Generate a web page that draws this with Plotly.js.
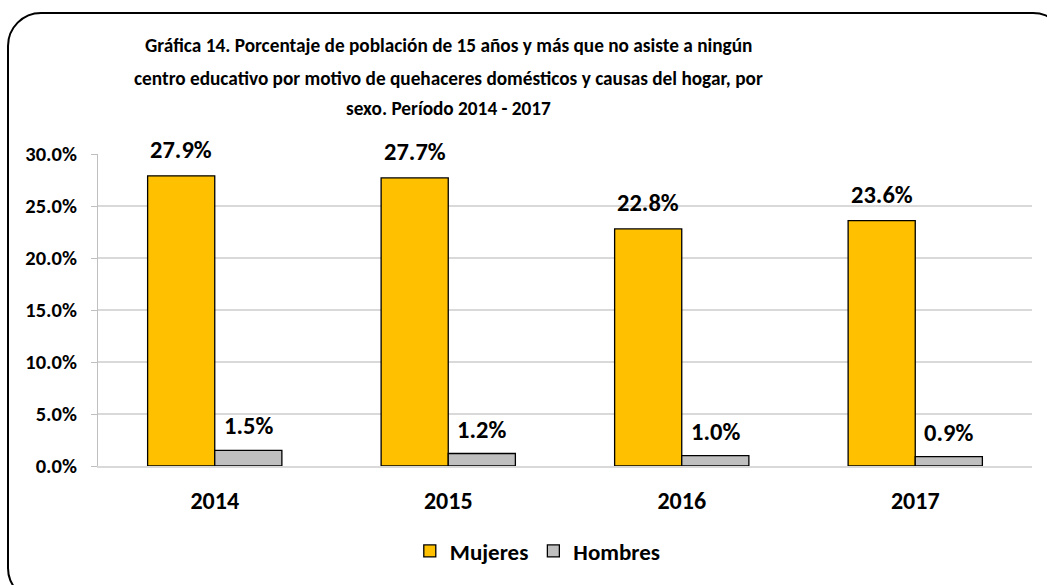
<!DOCTYPE html>
<html>
<head>
<meta charset="utf-8">
<script src="https://cdn.plot.ly/plotly-3.0.1.min.js"></script>
<style>
html,body{margin:0;padding:0;width:1047px;height:585px;overflow:hidden;background:#fff;}
#frame{position:absolute;left:7px;top:12px;width:1060px;height:590px;border:2px solid #000;border-radius:34px;box-sizing:border-box;pointer-events:none;z-index:2;}
#chart{position:absolute;left:0;top:0;width:1047px;height:585px;}
</style>
</head>
<body>
<div id="chart"></div>
<div id="frame"></div>
<script>
const years = ['2014', '2015', '2016', '2017'];
const mujeres = [27.9, 27.7, 22.8, 23.6];
const hombres = [1.5, 1.2, 1.0, 0.9];
const seriesNames = ['Mujeres', 'Hombres'];
const yTicks = [0, 5, 10, 15, 20, 25, 30];
const titleLines = [
  'Gráfica 14. Porcentaje de población de 15 años y más que no asiste a ningún',
  'centro educativo por motivo de quehaceres domésticos y causas del hogar, por',
  'sexo. Período 2014 - 2017'
];

const FONT = 'Carlito, Lato, "Open Sans", sans-serif';

const traces = [
  {type:'bar', name:seriesNames[0], x:years, y:mujeres,
   marker:{color:'#FFC000', line:{color:'#000', width:1.3}}, hoverinfo:'skip'},
  {type:'bar', name:seriesNames[1], x:years, y:hombres,
   marker:{color:'#BFBFBF', line:{color:'#000', width:1.3}}, hoverinfo:'skip'}
];

const annotations = [];
years.forEach((yr, i) => {
  annotations.push({x:i, y:mujeres[i], xref:'x', yref:'y', text:mujeres[i].toFixed(1)+'%', showarrow:false,
    xshift:-33.5, yshift:26, yanchor:'middle', font:{family:FONT, size:24.5, color:'#000', weight:'bold'}});
  annotations.push({x:i, y:hombres[i], xref:'x', yref:'y', text:hombres[i].toFixed(1)+'%', showarrow:false,
    xshift:33.5, yshift:24, yanchor:'middle', font:{family:FONT, size:24.5, color:'#000', weight:'bold'}});
});
// title lines (plot area: top 154px, bottom 466px)
const titleY = [46, 78, 108];
titleLines.forEach((t, k) => {
  annotations.push({xref:'paper', yref:'paper', x:(448-98)/934, y:(466-titleY[k])/312,
    xanchor:'center', yanchor:'middle', showarrow:false, text:t,
    font:{family:FONT, size:19.3, color:'#000', weight:'bold'}});
});

const layout = {
  width:1047, height:585,
  paper_bgcolor:'rgba(0,0,0,0)', plot_bgcolor:'rgba(0,0,0,0)',
  margin:{l:98, r:15, t:154, b:119},
  font:{family:FONT, color:'#000'},
  barmode:'group', bargap:0.425, bargroupgap:0,
  xaxis:{type:'category', range:[-0.5, 3.5], showgrid:false, showline:true, linecolor:'#D9D9D9', linewidth:1.5,
    ticks:'', ticklabelstandoff:13, tickfont:{family:FONT, size:24, color:'#000', weight:'bold'}, fixedrange:true},
  yaxis:{range:[0,30], tickvals:yTicks, ticktext:yTicks.map(v=>v.toFixed(1)+'%'),
    showgrid:true, gridcolor:'#D9D9D9', gridwidth:1.5, showline:true, linecolor:'#BFBFBF', linewidth:1,
    ticks:'outside', ticklen:6, tickcolor:'#BFBFBF', zeroline:false, ticklabelstandoff:10,
    tickfont:{family:FONT, size:20.5, color:'#000', weight:'bold'}, fixedrange:true},
  showlegend:true,
  legend:{orientation:'h', x:493/1047, xanchor:'center', y:(466-551)/312, yanchor:'middle',
    font:{family:FONT, size:23, color:'#000', weight:'bold'}, itemwidth:30, traceorder:'normal'},
  annotations:annotations
};

Plotly.newPlot('chart', traces, layout, {staticPlot:true, displayModeBar:false});
</script>
</body>
</html>
